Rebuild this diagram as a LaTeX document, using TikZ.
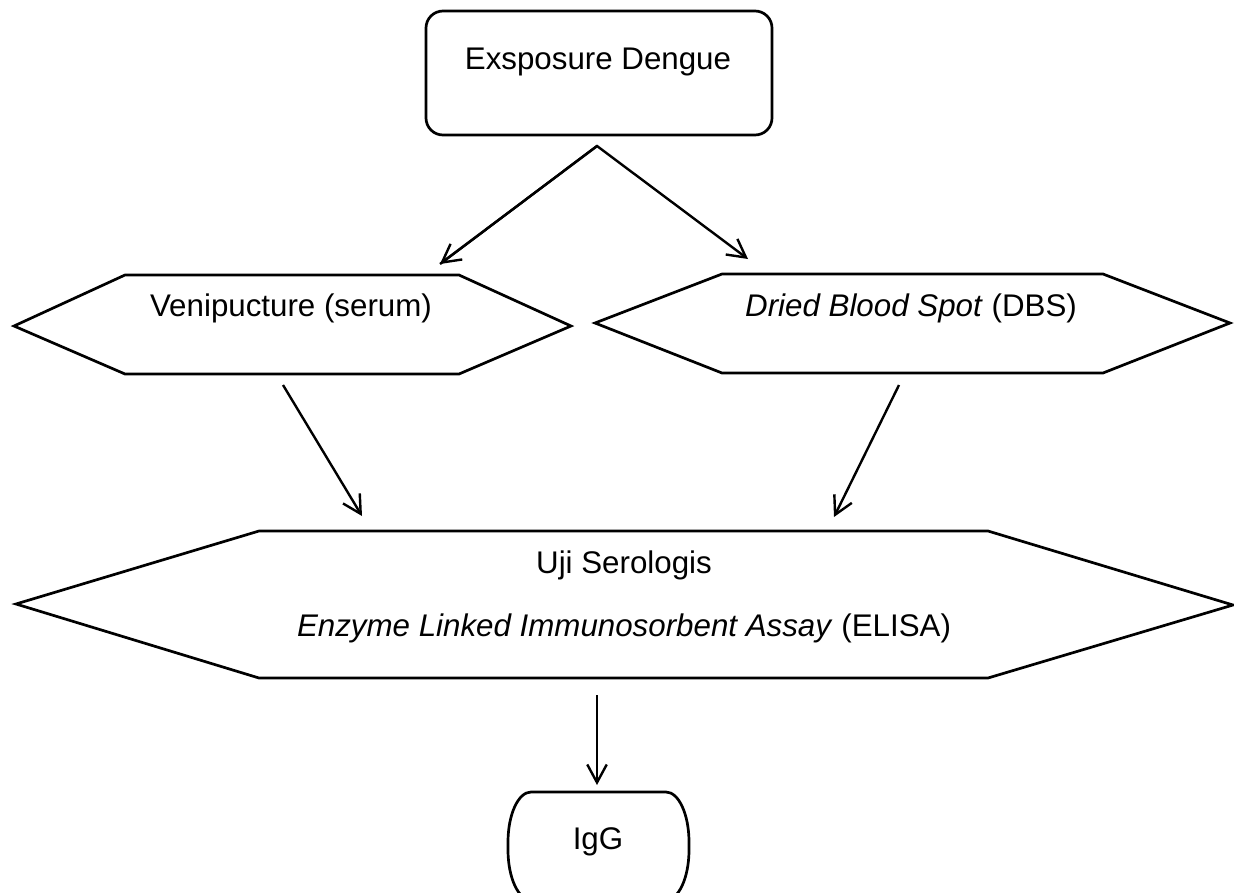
\documentclass[tikz,border=0pt]{standalone}
\usepackage{fontspec}
\setmainfont{Liberation Sans}
\usetikzlibrary{arrows.meta}
\begin{document}
\begin{tikzpicture}[x=1pt,y=-1pt,
  shapeline/.style={line width=2.7pt, line join=miter},
  arr/.style={line width=2.4pt, -{Straight Barb[length=18pt,width=19.5pt,line width=2.4pt]}},
  lbl/.style={anchor=base, inner sep=0pt, font=\fontsize{31.3}{37}\selectfont}]
\useasboundingbox (0,0) rectangle (1234,892);
\fill[white] (0,0) rectangle (1234,892);
\clip (0,0) rectangle (1234,892);
% shapes
\draw[shapeline, rounded corners=17pt] (426,11) rectangle (772,135);
\draw[shapeline] (14,326) -- (125,275) -- (459,275) -- (571,326) -- (459,374) -- (125,374) -- cycle;
\draw[shapeline] (595,323) -- (722,274) -- (1103,274) -- (1230,323) -- (1103,373) -- (722,373) -- cycle;
\draw[shapeline] (16,604) -- (259,531) -- (988,531) -- (1233,605) -- (988,678) -- (259,678) -- cycle;
\draw[shapeline] (531,792) -- (666,792)
  arc[start angle=90, end angle=0, x radius=23pt, y radius=50pt] -- (689,850)
  arc[start angle=0, end angle=-90, x radius=23pt, y radius=50pt] -- (531,900)
  arc[start angle=-90, end angle=-180, x radius=23pt, y radius=50pt] -- (508,842)
  arc[start angle=180, end angle=90, x radius=23pt, y radius=50pt] -- cycle;
% texts
\node[lbl] (expo) at (598,69) {Exsposure Dengue};
\node[lbl] (veni) at (291,316) {Venipucture (serum)};
\node[lbl] (dbs) at (911,316) {\textit{Dried Blood Spot} (DBS)};
\node[lbl] (uji) at (624,573) {Uji Serologis};
\node[lbl] (elisa) at (624,636) {\textit{Enzyme Linked Immunosorbent Assay} (ELISA)};
\node[lbl] (igg) at (598,849) {IgG};
% connector ends
\coordinate (apex) at (597,146);
\coordinate (vtop) at (440,264);
\coordinate (dtop) at (748,259);
\coordinate (vbot) at (283,385);
\coordinate (ea) at (362,516);
\coordinate (dbot) at (899,385);
\coordinate (eb) at (834,517);
\coordinate (ebot) at (597,695);
\coordinate (gtop) at (597,785);
% connectors
\draw[arr, line join=miter] (vtop) -- (apex) -- (dtop);
\draw[arr] (apex) -- (vtop);
\draw[arr] (vbot) -- (ea);
\draw[arr] (dbot) -- (eb);
\draw[arr] (ebot) -- (gtop);
\end{tikzpicture}
\end{document}
